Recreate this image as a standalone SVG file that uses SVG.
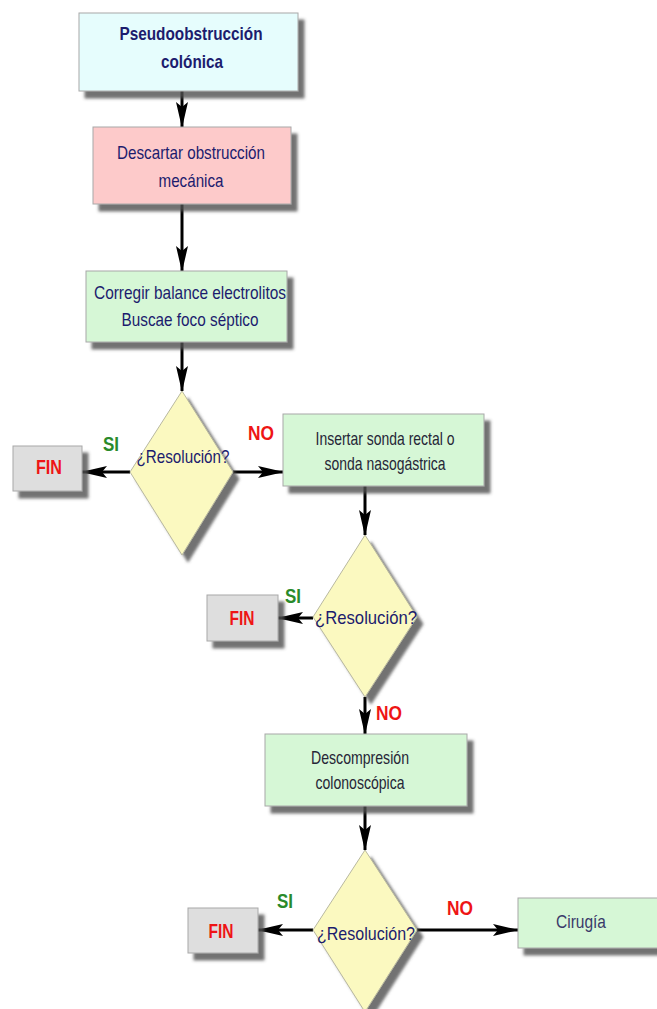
<svg xmlns="http://www.w3.org/2000/svg" width="657" height="1009" viewBox="0 0 657 1009">
<defs>
<filter id="sh" x="-10%" y="-10%" width="130%" height="140%">
<feDropShadow dx="6" dy="7" stdDeviation="1.5" flood-color="#505050" flood-opacity="0.8"/>
</filter>
<marker id="ah" markerUnits="userSpaceOnUse" markerWidth="26" markerHeight="12" refX="25" refY="6" orient="auto">
<path d="M0,0 L26,6 L0,12 L5,6 Z" fill="#000"/>
</marker>
</defs>
<style>
.box{stroke:#a8a8a8;stroke-width:1;filter:url(#sh)}
.cyan{fill:#e6fdfd}
.pink{fill:#fdcaca}
.green{fill:#d6f7d6}
.gray{fill:#dedede}
.dia{fill:#fbf9c0;stroke:#b8b8a0;stroke-width:1;filter:url(#sh)}
.t{font-family:"Liberation Sans",Arial,sans-serif;font-size:19px;text-anchor:middle;fill:#1c1c6e}
.tb{font-weight:bold}
.td{fill:#262636}
.fin{font-family:"Liberation Sans",Arial,sans-serif;font-size:20px;font-weight:bold;text-anchor:middle;fill:#ee1515}
.si{font-family:"Liberation Sans",Arial,sans-serif;font-size:20px;font-weight:bold;text-anchor:middle;fill:#2a8a2a}
.no{font-family:"Liberation Sans",Arial,sans-serif;font-size:20px;font-weight:bold;text-anchor:middle;fill:#ee1515}
.c{stroke:#000;stroke-width:3;fill:none;marker-end:url(#ah)}
</style>
<g id="connectors">
<line class="c" x1="182" y1="91" x2="182" y2="127"/>
<line class="c" x1="182" y1="204" x2="182" y2="271"/>
<line class="c" x1="182" y1="342" x2="182" y2="391"/>
<line class="c" x1="130" y1="472" x2="82" y2="472"/>
<line class="c" x1="233" y1="472" x2="283" y2="472"/>
<line class="c" x1="365" y1="486" x2="365" y2="535"/>
<line class="c" x1="313" y1="618" x2="278" y2="618"/>
<line class="c" x1="365" y1="697" x2="365" y2="734"/>
<line class="c" x1="365" y1="806" x2="365" y2="850"/>
<line class="c" x1="313" y1="930" x2="258" y2="930"/>
<line class="c" x1="417" y1="930" x2="518" y2="930"/>
</g>
<g id="n1">
<rect class="box cyan" x="79" y="13" width="219" height="78"/>
<text class="t tb" x="191" y="40" textLength="143" lengthAdjust="spacingAndGlyphs">Pseudoobstrucción</text>
<text class="t tb" x="192" y="68" textLength="62" lengthAdjust="spacingAndGlyphs">colónica</text>
</g>
<g id="n2">
<rect class="box pink" x="93" y="127" width="198" height="77"/>
<text class="t" x="191" y="159" textLength="148" lengthAdjust="spacingAndGlyphs">Descartar obstrucción</text>
<text class="t" x="191" y="187" textLength="65" lengthAdjust="spacingAndGlyphs">mecánica</text>
</g>
<g id="n3">
<rect class="box green" x="86" y="271" width="201" height="71"/>
<text class="t" x="190" y="299" textLength="192" lengthAdjust="spacingAndGlyphs">Corregir balance electrolitos</text>
<text class="t" x="190" y="326" textLength="137" lengthAdjust="spacingAndGlyphs">Buscae foco séptico</text>
</g>
<g id="d1">
<polygon class="dia" points="182,391 233,472 182,555 130,472"/>
<text class="t" x="183" y="463" textLength="93" lengthAdjust="spacingAndGlyphs">¿Resolución?</text>
</g>
<g id="fin1">
<rect class="box gray" x="13" y="446" width="69" height="45"/>
<text class="fin" x="49" y="474" textLength="26" lengthAdjust="spacingAndGlyphs">FIN</text>
</g>
<g id="n4">
<rect class="box green" x="283" y="414" width="201" height="72"/>
<text class="t td" x="385" y="445" textLength="139" lengthAdjust="spacingAndGlyphs">Insertar sonda rectal o</text>
<text class="t td" x="385" y="470" textLength="121" lengthAdjust="spacingAndGlyphs">sonda nasogástrica</text>
</g>
<g id="d2">
<polygon class="dia" points="365,535 417,617 365,697 313,617"/>
<text class="t" x="366" y="624" textLength="102" lengthAdjust="spacingAndGlyphs">¿Resolución?</text>
</g>
<g id="fin2">
<rect class="box gray" x="207" y="595" width="71" height="46"/>
<text class="fin" x="242" y="625" textLength="25" lengthAdjust="spacingAndGlyphs">FIN</text>
</g>
<g id="n5">
<rect class="box green" x="265" y="734" width="202" height="72"/>
<text class="t td" x="360" y="764" textLength="98" lengthAdjust="spacingAndGlyphs">Descompresión</text>
<text class="t td" x="360" y="789" textLength="89" lengthAdjust="spacingAndGlyphs">colonoscópica</text>
</g>
<g id="d3">
<polygon class="dia" points="365,850 417,930 365,1012 313,930"/>
<text class="t" x="366" y="940" textLength="98" lengthAdjust="spacingAndGlyphs">¿Resolución?</text>
</g>
<g id="fin3">
<rect class="box gray" x="188" y="908" width="70" height="45"/>
<text class="fin" x="221" y="938" textLength="25" lengthAdjust="spacingAndGlyphs">FIN</text>
</g>
<g id="n6">
<rect class="box green" x="518" y="898" width="150" height="50"/>
<text class="t" x="581" y="928" style="fill:#3a3a6a" textLength="50" lengthAdjust="spacingAndGlyphs">Cirugía</text>
</g>
<g id="labels">
<text class="si" x="111" y="451" textLength="16" lengthAdjust="spacingAndGlyphs">SI</text>
<text class="no" x="261" y="440" textLength="26" lengthAdjust="spacingAndGlyphs">NO</text>
<text class="si" x="293" y="603" textLength="16" lengthAdjust="spacingAndGlyphs">SI</text>
<text class="no" x="389" y="720" textLength="26" lengthAdjust="spacingAndGlyphs">NO</text>
<text class="si" x="285" y="908" textLength="16" lengthAdjust="spacingAndGlyphs">SI</text>
<text class="no" x="460" y="915" textLength="26" lengthAdjust="spacingAndGlyphs">NO</text>
</g>
</svg>
